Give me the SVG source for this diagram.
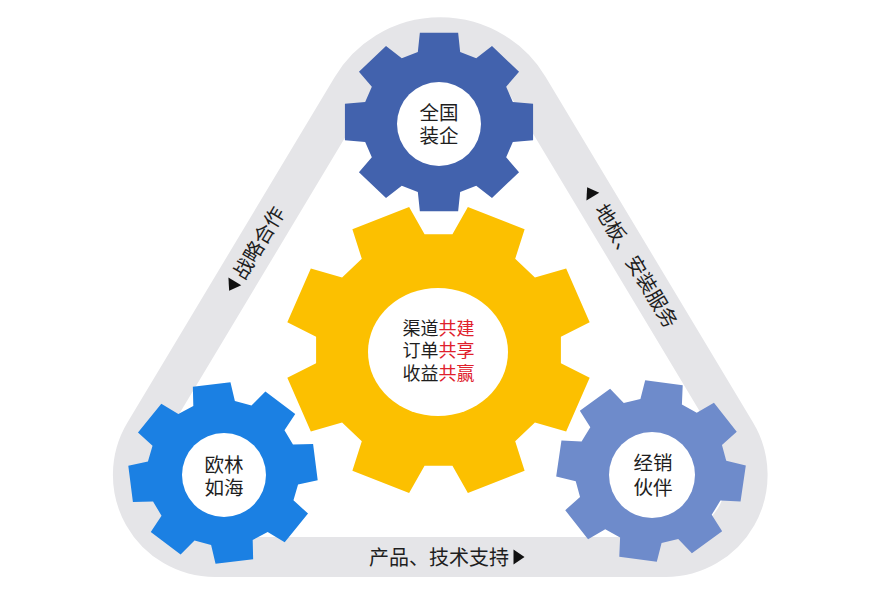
<svg xmlns="http://www.w3.org/2000/svg" xmlns:xlink="http://www.w3.org/1999/xlink" width="869" height="604" viewBox="0 0 869 604">
<style>
.t{font-family:"Noto Sans CJK SC","Noto Sans",sans-serif;font-size:20px;fill:#1e1e1e;text-anchor:middle}
.g{font-size:19.5px}
.c{font-size:18px}
.r{fill:#e0202c}
.hole{fill:#ffffff}
.band{fill:none;stroke:#e5e5e8;stroke-width:40}
.arr{fill:#111111}
</style>
<defs>
<path id="gear" d="M-22.05-76.9 L-19.94-97.99 L19.94-97.99 L22.05-76.9 L38.78-69.97 L55.19-83.39 L83.39-55.19 L69.97-38.78 L76.9-22.05 L97.99-19.94 L97.99 19.94 L76.9 22.05 L69.97 38.78 L83.39 55.19 L55.19 83.39 L38.78 69.97 L22.05 76.9 L19.94 97.99 L-19.94 97.99 L-22.05 76.9 L-38.78 69.97 L-55.19 83.39 L-83.39 55.19 L-69.97 38.78 L-76.9 22.05 L-97.99 19.94 L-97.99-19.94 L-76.9-22.05 L-69.97-38.78 L-83.39-55.19 L-55.19-83.39 L-38.78-69.97 Z"/>
<polygon id="tri" points="-5.5,-7.5 5.5,0 -5.5,7.5"/>
</defs>
<rect width="869" height="604" fill="#ffffff"/>
<g id="connectors">
<path class="band" d="M214.9 557 L665.6 557 A82 82 0 0 0 735.9 432.8 L528.5 87.2 A103 103 0 0 0 351.9 87.2 L144.6 432.8 A82 82 0 0 0 214.9 557 Z"/>
<use xlink:href="#tri" class="arr" transform="translate(232,286) rotate(121)"/>
<use xlink:href="#tri" class="arr" transform="translate(590,192) rotate(-121)"/>
<use xlink:href="#tri" class="arr" transform="translate(519,557)"/>
<text class="t" transform="translate(259,243) rotate(-59)" y="7">战略合作</text>
<text class="t" transform="translate(636,266) rotate(59)" y="7">地板、安装服务</text>
<text class="t" x="439" y="565">产品、技术支持</text>
</g>
<g id="node-top">
<use xlink:href="#gear" fill="#4262ad" transform="translate(439,122) scale(0.96,0.91)"/>
<circle class="hole" cx="439" cy="124" r="42"/>
<text class="t g" x="439" y="119.5">全国</text>
<text class="t g" x="439" y="143">装企</text>
</g>
<g id="node-center">
<use xlink:href="#gear" fill="#fcc000" transform="translate(438.5,350) scale(1.54,1.456) rotate(22.5)"/>
<ellipse class="hole" cx="438" cy="352" rx="70" ry="64"/>
<text class="t c" x="438.5" y="334.5">渠道<tspan class="r">共建</tspan></text>
<text class="t c" x="438.5" y="357">订单<tspan class="r">共享</tspan></text>
<text class="t c" x="438.5" y="379.5">收益<tspan class="r">共赢</tspan></text>
</g>
<g id="node-left">
<use xlink:href="#gear" fill="#1b80e3" transform="translate(223,473) scale(0.95,0.91) rotate(-7)"/>
<circle class="hole" cx="224" cy="475" r="42"/>
<text class="t g" x="224" y="471.5">欧林</text>
<text class="t g" x="224" y="495">如海</text>
</g>
<g id="node-right">
<use xlink:href="#gear" fill="#6e8bcb" transform="translate(651,471) scale(0.95,0.91) rotate(8)"/>
<circle class="hole" cx="652" cy="475" r="43"/>
<text class="t g" x="653" y="470">经销</text>
<text class="t g" x="653" y="494.5">伙伴</text>
</g>
</svg>
